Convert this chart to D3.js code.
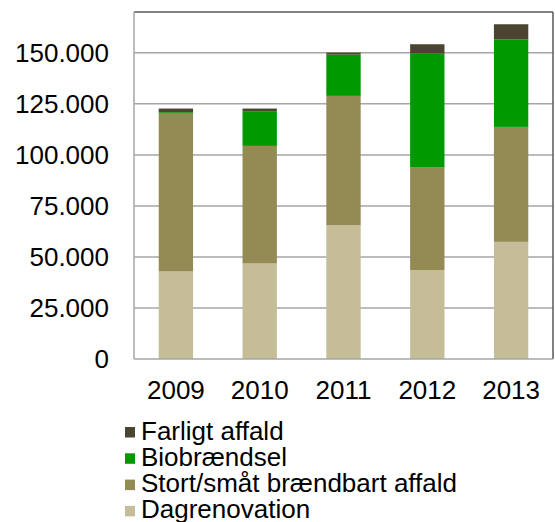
<!DOCTYPE html>
<html>
<head>
<meta charset="utf-8">
<script src="https://cdn.jsdelivr.net/npm/d3@7/dist/d3.min.js"></script>
<style>
  html, body { margin: 0; padding: 0; background: #fff; }
  svg { display: block; font-family: "Liberation Sans", Arial, sans-serif; }
</style>
</head>
<body>
<svg id="chart" width="555" height="522"></svg>
<script>
// Waste quantities (tonnes) per year, by fraction
const years = ["2009", "2010", "2011", "2012", "2013"];
const dagrenovation = [42900, 46800, 65600, 43600, 57400];
const stortSmaat    = [77300, 57600, 63300, 50200, 56300];
const biobraendsel  = [700, 17000, 20200, 55800, 42800];
const farligtAffald = [1800, 1300, 1000, 4600, 7500];

const seriesNames = ["Dagrenovation", "Stort/småt brændbart affald", "Biobrændsel", "Farligt affald"];
const seriesColors = ["#c4bd97", "#948a54", "#009900", "#4a4430"];
const yTicks = [0, 25000, 50000, 75000, 100000, 125000, 150000];

const rows = years.map((y, i) => ({
  year: y,
  "Dagrenovation": dagrenovation[i],
  "Stort/småt brændbart affald": stortSmaat[i],
  "Biobrændsel": biobraendsel[i],
  "Farligt affald": farligtAffald[i]
}));

const svg = d3.select("#chart");
const plot = { left: 134, right: 553, top: 12, bottom: 359 };
const fontSize = 26;

const x = d3.scaleBand().domain(years).range([plot.left, plot.right]).paddingInner(0.59).paddingOuter(0.295);
const y = d3.scaleLinear().domain([0, 170000]).range([plot.bottom, plot.top]);

const fmt = v => d3.format(",")(v).replace(/,/g, ".");

// horizontal gridlines
svg.append("g").selectAll("line").data(yTicks.slice(1)).join("line")
  .attr("x1", plot.left).attr("x2", plot.right)
  .attr("y1", d => y(d)).attr("y2", d => y(d))
  .attr("stroke", "#a6a6a6").attr("stroke-width", 1.5);

// stacked bars
const stacked = d3.stack().keys(seriesNames)(rows);
svg.append("g").selectAll("g").data(stacked).join("g")
  .attr("fill", (d, i) => seriesColors[i])
  .selectAll("rect").data(d => d).join("rect")
  .attr("x", d => x(d.data.year))
  .attr("width", x.bandwidth())
  .attr("y", d => y(d[1]))
  .attr("height", d => y(d[0]) - y(d[1]));

// plot frame: light left/bottom, dark top/right
const frame = svg.append("g").attr("fill", "none").attr("stroke-width", 1.5);
frame.append("line").attr("x1", plot.left).attr("x2", plot.right).attr("y1", plot.top).attr("y2", plot.top).attr("stroke", "#595959");
frame.append("line").attr("x1", plot.right).attr("x2", plot.right).attr("y1", plot.top).attr("y2", plot.bottom).attr("stroke", "#595959");
frame.append("line").attr("x1", plot.left).attr("x2", plot.left).attr("y1", plot.top).attr("y2", plot.bottom).attr("stroke", "#a6a6a6");
frame.append("line").attr("x1", plot.left).attr("x2", plot.right).attr("y1", plot.bottom).attr("y2", plot.bottom).attr("stroke", "#a6a6a6");

// y axis labels
const yAxis = d3.axisLeft(y).tickValues(yTicks).tickFormat(fmt).tickSize(0).tickPadding(25);
const ya = svg.append("g").attr("transform", `translate(${plot.left},0)`).call(yAxis);
ya.select(".domain").remove();
ya.selectAll("text").attr("font-size", fontSize).attr("fill", "#000")
  .attr("font-family", "'Liberation Sans', Arial, sans-serif").attr("dy", "0.33em");

// x axis labels
const xAxis = d3.axisBottom(x).tickSize(0).tickPadding(22);
const xa = svg.append("g").attr("transform", `translate(0,${plot.bottom})`).call(xAxis);
xa.select(".domain").remove();
xa.selectAll("text").attr("font-size", fontSize).attr("fill", "#000")
  .attr("font-family", "'Liberation Sans', Arial, sans-serif").attr("dy", "0.71em");

// legend, top series first
const legendOrder = seriesNames.map((n, i) => ({ name: n, color: seriesColors[i] })).reverse();
const lg = svg.append("g").selectAll("g").data(legendOrder).join("g")
  .attr("transform", (d, i) => `translate(125,${439.5 + i * 26.3})`);
lg.append("rect").attr("x", 0).attr("y", -12.5).attr("width", 10).attr("height", 10.5).attr("fill", d => d.color);
lg.append("text").attr("x", 16).attr("y", 0).attr("font-size", fontSize).attr("fill", "#000").text(d => d.name);
</script>
</body>
</html>
